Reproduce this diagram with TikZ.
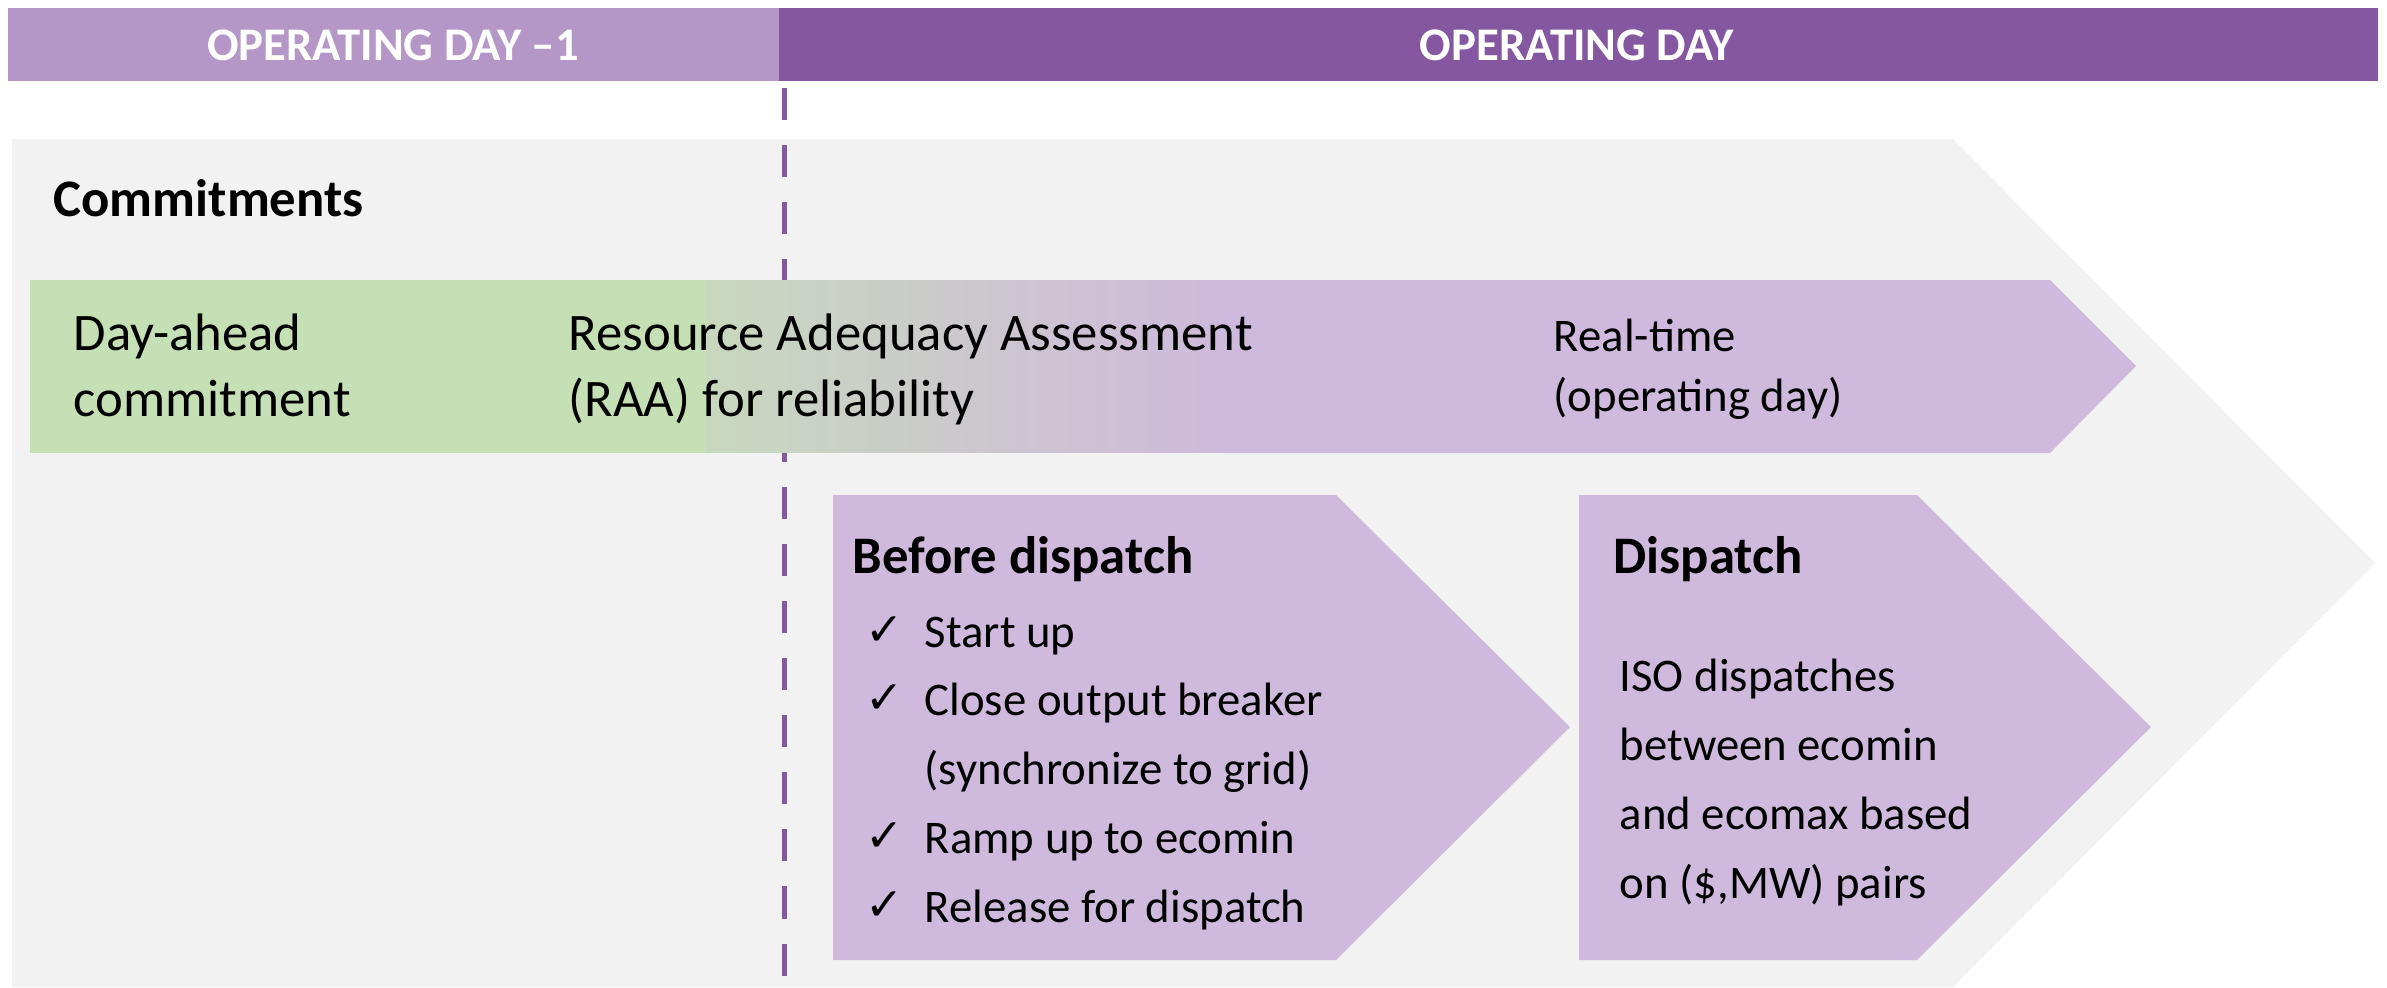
\documentclass[tikz,border=0pt]{standalone}
\usepackage{fontspec}
\setmainfont{Carlito}
\newfontfamily\symfont{DejaVu Sans}
\definecolor{hdlight}{RGB}{181,151,199}
\definecolor{hddark}{RGB}{133,87,160}
\definecolor{lila}{RGB}{207,185,220}
\definecolor{bggrey}{RGB}{242,242,242}
\definecolor{dagreen}{RGB}{197,224,180}
\definecolor{mixgrey}{RGB}{200,216,190}
\tikzset{
  headtxt/.style={text=white,inner sep=0pt,font=\fontsize{13.3}{16}\selectfont\bfseries},
  titletxt/.style={anchor=west,inner sep=0pt,font=\fontsize{15}{18}\selectfont\bfseries},
  bandtxt/.style={anchor=base west,align=left,inner sep=0pt,font=\fontsize{15}{18.5}\selectfont},
  rttxt/.style={anchor=base west,align=left,inner sep=0pt,font=\fontsize{13.3}{16.8}\selectfont},
  boxtxt/.style={anchor=base west,align=left,inner sep=0pt,font=\fontsize{13.3}{19.6}\selectfont},
  tick/.style={anchor=base,inner sep=0pt,font=\symfont\fontsize{13}{15}\selectfont}
}
\begin{document}
\begin{tikzpicture}[x=0.01cm,y=-0.01cm]

\useasboundingbox (0,0) rectangle (2387,987);

% bandeau du haut
\fill[hdlight] (8,8) rectangle (779,81);
\fill[hddark] (779,8) rectangle (2378,81);
\node[headtxt] (dayminus) at (393,45) {OPERATING DAY –1};
\node[headtxt] (opday) at (1577,45) {OPERATING DAY};

% grande fleche grise
\fill[bggrey] (12,139) -- (1953,139) -- (2375,563) -- (1953,987) -- (12,987) -- cycle;

% limite entre les jours
\draw[hddark,line width=0.05cm,dash pattern=on 0.32cm off 0.25cm] (784,88) -- (784,987);

% engagements
\fill[dagreen] (30,280) rectangle (707,453);
\foreach \i in {0,...,51} {
  \pgfmathsetmacro\p{100*\i/51}
  \fill[lila!\p!mixgrey] (706+10*\i,280) rectangle (717+10*\i,453);
}
\fill[lila] (1225,280) -- (2050,280) -- (2136,366) -- (2050,453) -- (1225,453) -- cycle;

% (base = derniere ligne)
\node[titletxt] (commit) at (53,198) {Commitments};
\node[bandtxt] (dayahead) at (73,416) {Day-ahead\\commitment};
\node[bandtxt] (raa) at (568,416) {Resource Adequacy Assessment\\(RAA) for reliability};
\node[rttxt] (realtime) at (1553,411) {Real-time\\(operating day)};

% avant le dispatch
\fill[lila] (833,495) -- (1336,495) -- (1570,727) -- (1336,960) -- (833,960) -- cycle;
\node[titletxt] (before) at (852,559) {Before dispatch};
\foreach \n/\y in {1/645,2/713,3/851,4/920}
  \node[tick] (tick\n) at (885,\y) {✓};
\node[boxtxt] (startup) at (924,647) {Start up};
\node[boxtxt] (breaker) at (924,784) {Close output breaker\\(synchronize to grid)};
\node[boxtxt] (ramp) at (924,853) {Ramp up to ecomin};
\node[boxtxt] (release) at (924,922) {Release for dispatch};

% dispatch
\fill[lila] (1579,495) -- (1917,495) -- (2151,727) -- (1917,960) -- (1579,960) -- cycle;
\node[titletxt] (disp) at (1613,559) {Dispatch};
\node[boxtxt] (iso) at (1619,898) {ISO dispatches\\between ecomin\\and ecomax based\\on (\$,MW) pairs};

\end{tikzpicture}
\end{document}
